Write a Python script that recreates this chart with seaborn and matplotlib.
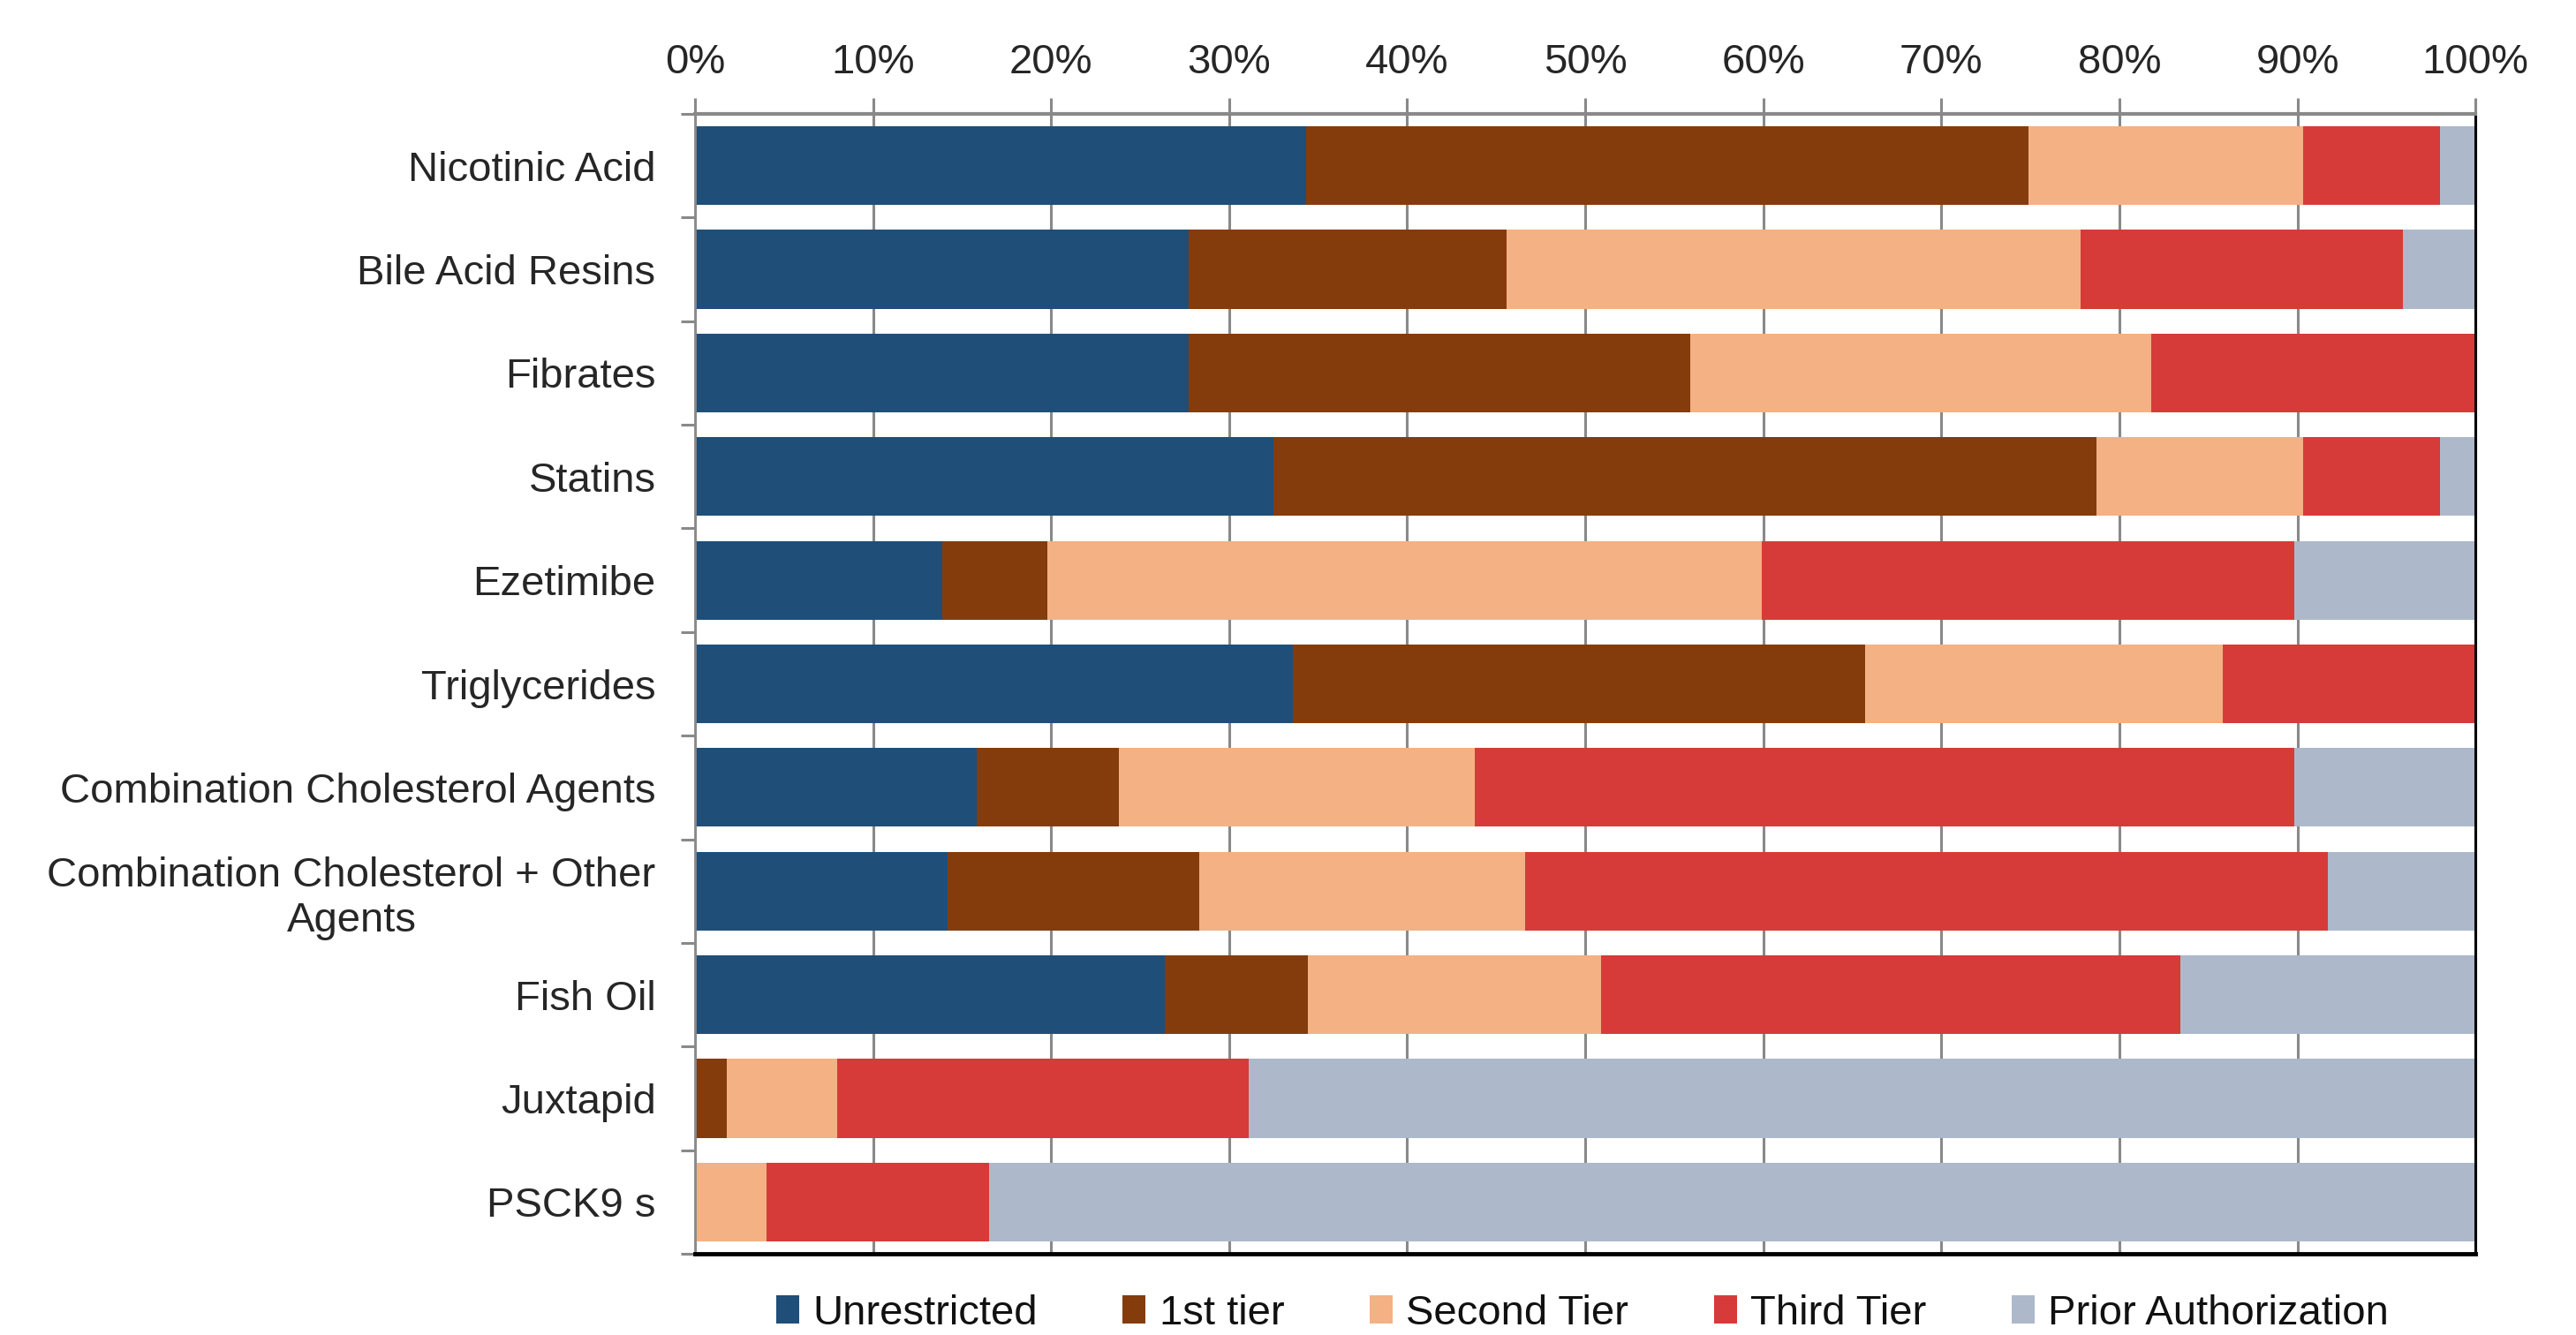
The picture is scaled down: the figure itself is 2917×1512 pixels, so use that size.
import matplotlib
matplotlib.use("Agg")
import matplotlib.pyplot as plt
from matplotlib.patches import Patch
from matplotlib.ticker import FixedLocator
import numpy as np
import pandas as pd
import seaborn as sns

# Formulary coverage by drug class (share of plans, %)
categories = [
    "Nicotinic Acid",
    "Bile Acid Resins",
    "Fibrates",
    "Statins",
    "Ezetimibe",
    "Triglycerides",
    "Combination Cholesterol Agents",
    "Combination Cholesterol + Other\nAgents",
    "Fish Oil",
    "Juxtapid",
    "PSCK9 s",
]
unrestricted = [34.3, 27.7, 27.7, 32.5, 13.9, 33.6, 15.8, 14.2, 26.4, 0.0, 0.0]
first_tier = [40.6, 17.9, 28.2, 46.2, 5.9, 32.1, 8.0, 14.1, 8.0, 1.8, 0.0]
second_tier = [15.4, 32.2, 25.9, 11.6, 40.1, 20.1, 20.0, 18.3, 16.5, 6.2, 4.0]
third_tier = [7.7, 18.1, 18.2, 7.7, 29.9, 14.2, 46.0, 45.1, 32.5, 23.1, 12.5]
prior_auth = [2.0, 4.1, 0.0, 2.0, 10.2, 0.0, 10.2, 8.3, 16.6, 68.9, 83.5]

series_names = ["Unrestricted", "1st tier", "Second Tier", "Third Tier", "Prior Authorization"]
series_values = [unrestricted, first_tier, second_tier, third_tier, prior_auth]
series_colors = ["#1F4E79", "#843C0C", "#F4B183", "#D63B39", "#ADB9CA"]
x_ticks = list(range(0, 101, 10))
x_tick_labels = [f"{t}%" for t in x_ticks]

sns.set_theme(style="white")
plt.rcParams["font.family"] = ["Liberation Sans", "DejaVu Sans"]
plt.rcParams["text.color"] = "#111111"

DPI = 100
fig = plt.figure(figsize=(29.17, 15.12), dpi=DPI)
ax = fig.add_axes([0.2698, 0.0608, 0.9610 - 0.2698, 0.9147 - 0.0608])

# Stacked bars: draw cumulative totals from the outermost segment inwards
df = pd.DataFrame({"category": categories})
cum = np.zeros(len(categories))
cumulative = []
for vals in series_values:
    cum = cum + np.array(vals)
    cumulative.append(cum.copy())
for name, total, color in reversed(list(zip(series_names, cumulative, series_colors))):
    d = df.assign(value=total)
    sns.barplot(data=d, x="value", y="category", orient="h", color=color,
                width=0.76, saturation=1, edgecolor="none", linewidth=0, ax=ax,
                zorder=3)

ax.set_xlim(0, 100)
ax.set_ylim(len(categories) - 0.5, -0.5)
ax.set_xlabel("")
ax.set_ylabel("")

# x axis on top with percentage labels and vertical gridlines
ax.xaxis.set_ticks_position("top")
ax.xaxis.set_label_position("top")
ax.set_xticks(x_ticks)
ax.set_xticklabels(x_tick_labels, fontsize=34)
ax.tick_params(axis="x", which="major", direction="out", length=13, width=2.2,
               color="#898989", pad=13, top=True, bottom=False)
ax.grid(axis="x", color="#898989", linewidth=2.2, zorder=0)
ax.grid(axis="y", visible=False)
ax.set_axisbelow(True)

# category labels, with separator ticks between categories
ax.tick_params(axis="y", which="major", length=0, pad=32, labelsize=34)
for lbl in ax.get_yticklabels():
    lbl.set_multialignment("center")
ax.yaxis.set_minor_locator(FixedLocator(np.arange(-0.5, len(categories), 1.0)))
ax.tick_params(axis="y", which="minor", direction="out", length=11.5, width=2.2,
               color="#898989", left=True)

for side, color, lw in [("top", "#898989", 3.0), ("left", "#898989", 2.0),
                        ("bottom", "#000000", 3.5), ("right", "#000000", 2.2)]:
    ax.spines[side].set_visible(True)
    ax.spines[side].set_color(color)
    ax.spines[side].set_linewidth(lw)
    ax.spines[side].set_zorder(5)

handles = [Patch(facecolor=c, edgecolor="none", label=n)
           for n, c in zip(series_names, series_colors)]
fig.legend(handles=handles, loc="center", bbox_to_anchor=(0.6143, 0.0160),
           ncol=5, frameon=False, fontsize=34, handlelength=0.55,
           handleheight=0.65, handletextpad=0.32, columnspacing=2.05)

fig.savefig("out.png", dpi=DPI)
